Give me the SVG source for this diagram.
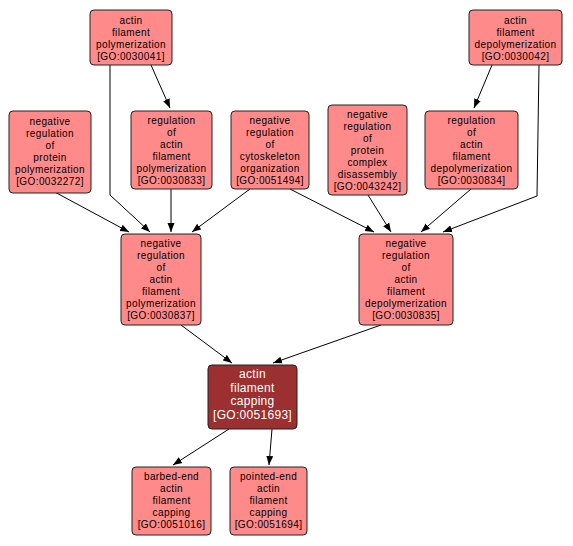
<svg xmlns="http://www.w3.org/2000/svg" width="573" height="546" viewBox="0 0 573 546">
<style>
.n rect{fill:#ff8a8a;stroke:#222;stroke-width:1}
.n text{font-family:"Liberation Sans",Arial,sans-serif;font-size:10px;letter-spacing:0.4px;text-anchor:middle;fill:#000}
.m rect{fill:#9c2f2f;stroke:#222;stroke-width:1}
.m text{font-family:"Liberation Sans",Arial,sans-serif;font-size:12px;letter-spacing:0.3px;text-anchor:middle;fill:#fff}
.e path{fill:none;stroke:#000;stroke-width:1;marker-end:url(#a)}
</style>
<defs>
<marker id="a" markerUnits="userSpaceOnUse" markerWidth="10" markerHeight="8" refX="9" refY="4" orient="auto">
<path d="M0,0.5 L9,4 L0,7.5 z" fill="#000"/>
</marker>
</defs>
<rect width="573" height="546" fill="#fff"/>
<g id="edges" class="e">
<path d="M151,65 L170,108"/>
<path d="M110,65 L110,195 L150,232"/>
<path d="M492,65 L474,108"/>
<path d="M539,65 L537,196 L443,232"/>
<path d="M51,190 L129,232"/>
<path d="M171,189 L171,232"/>
<path d="M250,189 L192,232"/>
<path d="M290,189 L374,232"/>
<path d="M368,195 L391,232"/>
<path d="M471,189 L421,232"/>
<path d="M181,325 L232,363"/>
<path d="M381,325 L273,363"/>
<path d="M229,429 L173,465"/>
<path d="M272,429 L269,465"/>
</g>
<g id="GO_0030041" class="n"><rect x="90" y="10" width="82" height="55" rx="4"/>
<text x="131" y="23.5">actin<tspan x="131" dy="12">filament</tspan><tspan x="131" dy="12">polymerization</tspan><tspan x="131" dy="12">[GO:0030041]</tspan></text></g>
<g id="GO_0030042" class="n"><rect x="469" y="10" width="93" height="55" rx="4"/>
<text x="515.5" y="23.5">actin<tspan x="515.5" dy="12">filament</tspan><tspan x="515.5" dy="12">depolymerization</tspan><tspan x="515.5" dy="12">[GO:0030042]</tspan></text></g>
<g id="GO_0032272" class="n"><rect x="9" y="111" width="82" height="82" rx="4"/>
<text x="50" y="125">negative<tspan x="50" dy="12">regulation</tspan><tspan x="50" dy="12">of</tspan><tspan x="50" dy="12">protein</tspan><tspan x="50" dy="12">polymerization</tspan><tspan x="50" dy="12">[GO:0032272]</tspan></text></g>
<g id="GO_0030833" class="n"><rect x="131" y="111" width="81" height="78" rx="4"/>
<text x="171.5" y="123.5">regulation<tspan x="171.5" dy="12">of</tspan><tspan x="171.5" dy="12">actin</tspan><tspan x="171.5" dy="12">filament</tspan><tspan x="171.5" dy="12">polymerization</tspan><tspan x="171.5" dy="12">[GO:0030833]</tspan></text></g>
<g id="GO_0051494" class="n"><rect x="231" y="111" width="78" height="78" rx="4"/>
<text x="270" y="123.5">negative<tspan x="270" dy="12">regulation</tspan><tspan x="270" dy="12">of</tspan><tspan x="270" dy="12">cytoskeleton</tspan><tspan x="270" dy="12">organization</tspan><tspan x="270" dy="12">[GO:0051494]</tspan></text></g>
<g id="GO_0043242" class="n"><rect x="328" y="105" width="79" height="90" rx="4"/>
<text x="367.5" y="117.5">negative<tspan x="367.5" dy="12">regulation</tspan><tspan x="367.5" dy="12">of</tspan><tspan x="367.5" dy="12">protein</tspan><tspan x="367.5" dy="12">complex</tspan><tspan x="367.5" dy="12">disassembly</tspan><tspan x="367.5" dy="12">[GO:0043242]</tspan></text></g>
<g id="GO_0030834" class="n"><rect x="425" y="111" width="93" height="78" rx="4"/>
<text x="471.5" y="123.5">regulation<tspan x="471.5" dy="12">of</tspan><tspan x="471.5" dy="12">actin</tspan><tspan x="471.5" dy="12">filament</tspan><tspan x="471.5" dy="12">depolymerization</tspan><tspan x="471.5" dy="12">[GO:0030834]</tspan></text></g>
<g id="GO_0030837" class="n"><rect x="121" y="234" width="80" height="91" rx="4"/>
<text x="161" y="247">negative<tspan x="161" dy="12">regulation</tspan><tspan x="161" dy="12">of</tspan><tspan x="161" dy="12">actin</tspan><tspan x="161" dy="12">filament</tspan><tspan x="161" dy="12">polymerization</tspan><tspan x="161" dy="12">[GO:0030837]</tspan></text></g>
<g id="GO_0030835" class="n"><rect x="359" y="234" width="94" height="91" rx="4"/>
<text x="406" y="247">negative<tspan x="406" dy="12">regulation</tspan><tspan x="406" dy="12">of</tspan><tspan x="406" dy="12">actin</tspan><tspan x="406" dy="12">filament</tspan><tspan x="406" dy="12">depolymerization</tspan><tspan x="406" dy="12">[GO:0030835]</tspan></text></g>
<g id="GO_0051693" class="m"><rect x="208" y="365" width="89" height="64" rx="4"/>
<text x="252.5" y="378">actin<tspan x="252.5" dy="13.5">filament</tspan><tspan x="252.5" dy="13.5">capping</tspan><tspan x="252.5" dy="13.5">[GO:0051693]</tspan></text></g>
<g id="GO_0051016" class="n"><rect x="132" y="467" width="79" height="68" rx="4"/>
<text x="171.5" y="480">barbed-end<tspan x="171.5" dy="12">actin</tspan><tspan x="171.5" dy="12">filament</tspan><tspan x="171.5" dy="12">capping</tspan><tspan x="171.5" dy="12">[GO:0051016]</tspan></text></g>
<g id="GO_0051694" class="n"><rect x="230" y="467" width="77" height="68" rx="4"/>
<text x="268.5" y="480">pointed-end<tspan x="268.5" dy="12">actin</tspan><tspan x="268.5" dy="12">filament</tspan><tspan x="268.5" dy="12">capping</tspan><tspan x="268.5" dy="12">[GO:0051694]</tspan></text></g>
</svg>
